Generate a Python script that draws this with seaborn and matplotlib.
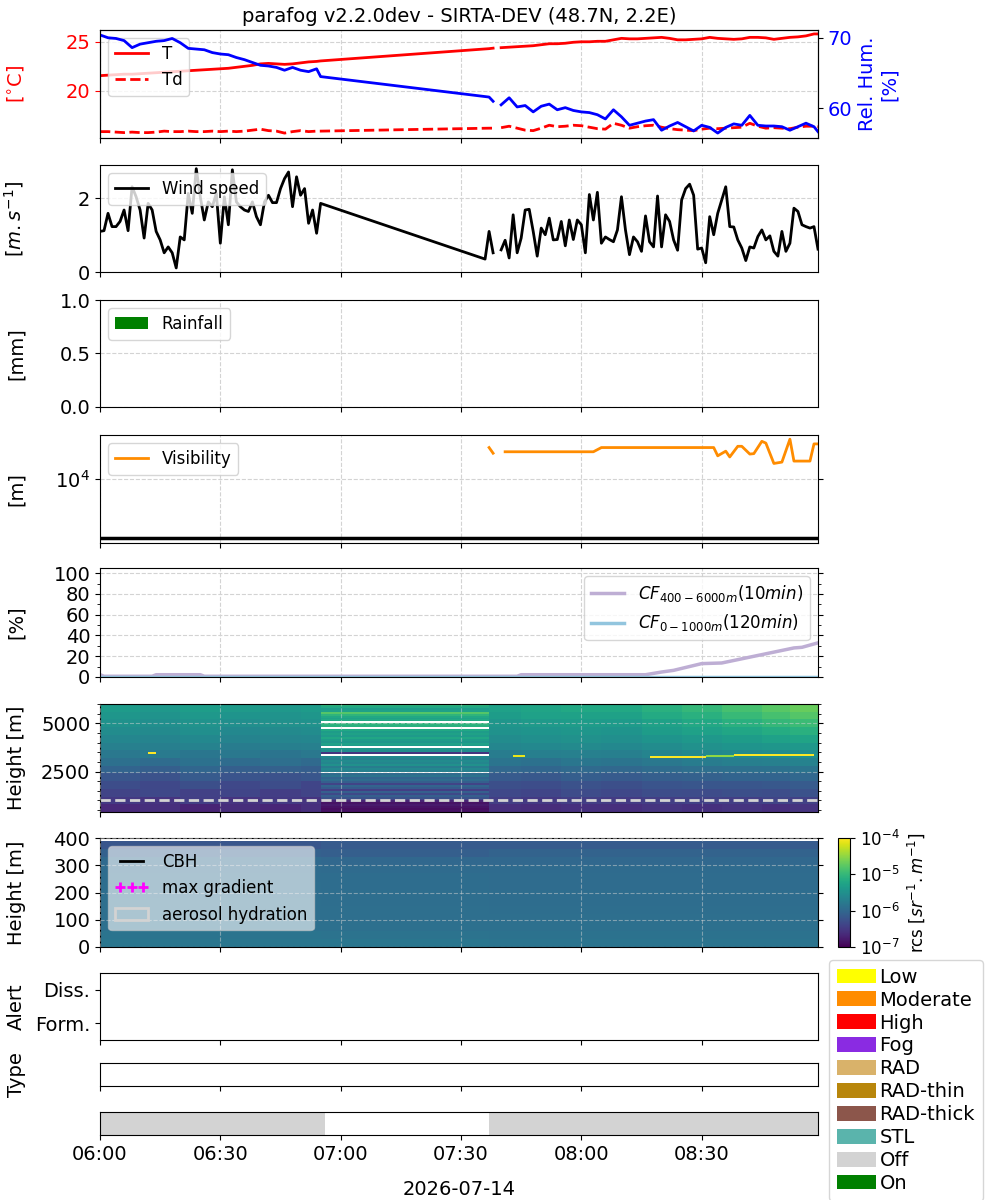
import numpy as np
import pandas as pd
import matplotlib
matplotlib.use("Agg")
import matplotlib.pyplot as plt
import matplotlib.dates as mdates
from matplotlib.colors import LogNorm
from matplotlib.lines import Line2D
from matplotlib.patches import Patch
from matplotlib.ticker import MultipleLocator, NullLocator, LogLocator
import seaborn as sns

plt.rcParams['font.family'] = ['DejaVu Sans']
plt.rcParams['font.size'] = 14
plt.rcParams['legend.fontsize'] = 12

# ---------------- data (minutes after 06:00, 2026-07-14) ----------------
day = pd.Timestamp('2026-07-14 06:00')

# thermodynamics, ~2 min resolution, NaN = gap in record
therm_min = list(range(0, 55, 2)) + [55, 97, 98, 99] + list(range(100, 179, 2)) + [179]
temp = [21.55, 21.6, 21.65, 21.7, 21.7, 21.75, 21.8, 21.85, 21.9, 21.95,
        22.0, 22.05, 22.1, 22.15, 22.2, 22.25, 22.3, 22.4, 22.5, 22.6,
        22.75, 22.8, 22.75, 22.7, 22.75, 22.85, 22.95, 23.0,
        23.05, 24.3, 24.35, np.nan,
        24.4, 24.45, 24.5, 24.55, 24.6, 24.7, 24.8, 24.8, 24.85, 24.95,
        25.0, 25.0, 25.05, 25.05, 25.2, 25.35, 25.3, 25.3, 25.35, 25.4,
        25.45, 25.35, 25.2, 25.2, 25.25, 25.3, 25.45, 25.35, 25.3, 25.25,
        25.3, 25.45, 25.45, 25.4, 25.25, 25.35, 25.45, 25.5, 25.6, 25.8,
        25.8]
dewp = [15.85, 15.85, 15.8, 15.75, 15.8, 15.75, 15.75, 15.8, 15.9, 15.85,
        15.85, 15.9, 15.85, 15.85, 15.9, 15.85, 15.9, 15.85, 15.9, 16.0,
        16.1, 15.95, 15.9, 15.7, 15.85, 15.95, 15.85, 15.9,
        15.9, 16.2, 16.2, np.nan,
        16.25, 16.4, 16.2, 16.0, 15.95, 16.2, 16.5, 16.35, 16.4, 16.5,
        16.45, 16.3, 16.15, 16.1, 16.7, 16.5, 16.2, 16.35, 16.45, 16.5,
        16.3, 16.15, 16.05, 16.0, 15.95, 16.1, 16.2, 16.15, 16.2, 16.25,
        16.3, 16.7, 16.4, 16.2, 16.25, 16.2, 16.15, 16.3, 16.4, 16.4,
        16.35]
relhum = [70.4, 70.0, 69.9, 69.6, 68.6, 69.1, 69.3, 69.5, 69.6, 69.9,
          69.3, 68.5, 68.4, 68.3, 67.9, 67.7, 67.6, 67.2, 66.9, 66.5,
          66.1, 66.0, 65.8, 65.4, 65.8, 65.4, 65.2, 65.6,
          64.5, 61.6, 61.0, np.nan,
          60.5, 61.5, 60.2, 60.4, 59.5, 60.3, 60.6, 59.8, 60.1, 59.7,
          59.5, 59.4, 59.1, 58.5, 59.8, 58.8, 57.6, 57.9, 58.2, 58.4,
          56.9, 57.5, 58.0, 57.4, 56.8, 57.6, 57.3, 56.5, 57.3, 57.8,
          57.6, 59.0, 57.6, 57.5, 57.5, 57.4, 56.9, 57.4, 57.9, 57.4,
          56.7]

# wind speed, 1 min resolution
wind_min = list(range(0, 56)) + [96, 97, 98, 99] + list(range(100, 180))
wind = [1.10, 1.12, 1.59, 1.23, 1.23, 1.37, 1.68, 1.12, 2.31, 2.04,
        1.68, 0.92, 1.86, 1.68, 1.10, 0.87, 0.52, 0.68, 0.52, 0.11,
        0.95, 0.87, 2.13, 1.59, 2.80, 2.04, 1.41, 1.90, 1.77, 2.13,
        0.78, 2.04, 1.28, 2.77, 1.90, 1.77, 1.68, 1.64, 1.90, 1.50,
        1.28, 1.90, 2.08, 1.88, 1.88, 2.26, 2.53, 2.71, 1.77, 2.58,
        2.08, 2.26, 1.32, 1.68, 1.05, 1.86,
        0.35, 1.10, 0.52, np.nan,
        0.60, 0.86, 0.38, 1.55, 0.52, 0.92, 1.68, 1.70, 1.10, 0.43,
        1.19, 1.01, 1.46, 0.87, 0.88, 1.37, 0.71, 1.41, 0.88, 1.41,
        1.28, 0.52, 2.10, 1.41, 2.16, 0.78, 0.95, 0.88, 0.82, 1.14,
        2.04, 1.14, 0.47, 0.95, 0.82, 0.56, 1.52, 0.82, 0.68, 2.06,
        0.68, 1.55, 1.37, 0.87, 0.59, 1.95, 2.26, 2.38, 2.08, 0.62,
        0.65, 0.25, 1.50, 1.01, 1.59, 1.95, 2.31, 1.23, 1.22, 0.87,
        0.65, 0.31, 0.68, 0.65, 0.96, 1.14, 0.87, 0.98, 0.56, 0.43,
        1.10, 0.56, 0.78, 1.73, 1.64, 1.28, 1.23, 1.19, 1.23, 0.62]

# rainfall (none recorded)
rain_min = [0, 179]
rain_mm = [0.0, 0.0]

# visibility [m]
vis_min = [97, 98, 99, 101, 123, 125, 153, 154, 156, 157, 159, 160, 162,
           163, 165, 166, 168, 170, 172, 173, 177, 178, 179]
vis = [21900, 19000, np.nan, 19700, 19700, 21900, 21900, 17800, 20000, 17300,
       22600, 22600, 18600, 18800, 25600, 24500, 14700, 15200, 27000, 15600,
       15600, 24000, 24000]
vis_ref = 2260

# cloud fraction [%]
cf_min = [0, 1, 13, 14, 25, 26, 104, 105, 136, 140, 143, 150, 155, 173, 175, 179]
cf_high = [2.2, 0.7, 0.7, 2.2, 2.2, 0.7, 0.7, 2.2, 2.2, 4.8, 6.4, 12.9, 13.5,
           28.0, 28.6, 32.9]
cf_low_min = [0, 179]
cf_low = [0.0, 0.0]

# backscatter, log10(rcs), upper range 400-6000 m in 400 m layers
hi_edges = [400, 800, 1200, 1600, 2000, 2400, 2800, 3200, 3600, 4000,
            4400, 4800, 5200, 5600, 6000]
seg1_edges = [0, 10, 20, 30, 40, 50, 55]
bs_seg1 = [
    [-6.65, -6.60, -6.70, -6.62, -6.68, -6.60],
    [-6.50, -6.55, -6.45, -6.55, -6.50, -6.55],
    [-6.40, -6.35, -6.42, -6.38, -6.45, -6.40],
    [-6.30, -6.35, -6.28, -6.35, -6.30, -6.38],
    [-6.20, -6.25, -6.15, -6.22, -6.25, -6.20],
    [-6.05, -6.10, -6.02, -6.10, -6.08, -6.12],
    [-5.90, -5.95, -5.88, -5.95, -5.92, -5.98],
    [-5.80, -5.78, -5.82, -5.80, -5.85, -5.80],
    [-5.70, -5.72, -5.68, -5.75, -5.72, -5.70],
    [-5.62, -5.65, -5.60, -5.66, -5.64, -5.62],
    [-5.55, -5.58, -5.52, -5.60, -5.58, -5.55],
    [-5.48, -5.52, -5.46, -5.52, -5.50, -5.48],
    [-5.42, -5.46, -5.40, -5.45, -5.46, -5.42],
    [-5.36, -5.40, -5.34, -5.38, -5.40, -5.36],
]
seg2_edges = [97, 105, 115, 125, 135, 145, 155, 165, 172, 179]
bs_seg2 = [
    [-6.60, -6.62, -6.58, -6.60, -6.55, -6.58, -6.55, -6.60, -6.55],
    [-6.45, -6.50, -6.45, -6.48, -6.45, -6.42, -6.45, -6.40, -6.42],
    [-6.35, -6.38, -6.32, -6.35, -6.30, -6.32, -6.28, -6.30, -6.25],
    [-6.28, -6.30, -6.25, -6.28, -6.22, -6.20, -6.20, -6.18, -6.15],
    [-6.15, -6.18, -6.12, -6.15, -6.10, -6.08, -6.05, -6.05, -6.00],
    [-6.00, -6.02, -5.98, -6.00, -5.95, -5.92, -5.90, -5.88, -5.85],
    [-5.85, -5.88, -5.82, -5.85, -5.80, -5.75, -5.72, -5.70, -5.68],
    [-5.75, -5.72, -5.70, -5.72, -5.65, -5.60, -5.58, -5.55, -5.52],
    [-5.62, -5.60, -5.58, -5.60, -5.55, -5.50, -5.45, -5.42, -5.40],
    [-5.55, -5.52, -5.50, -5.52, -5.45, -5.40, -5.35, -5.30, -5.25],
    [-5.48, -5.45, -5.42, -5.45, -5.35, -5.30, -5.22, -5.15, -5.10],
    [-5.42, -5.38, -5.35, -5.36, -5.28, -5.20, -5.10, -5.00, -4.95],
    [-5.35, -5.30, -5.28, -5.28, -5.18, -5.10, -4.98, -4.88, -4.80],
    [-5.30, -5.25, -5.20, -5.20, -5.10, -5.00, -4.88, -4.78, -4.70],
]
# repeated profile while the ceilometer was off (100 m layers, 400-6000 m)
mid_edges = list(range(400, 6001, 100))
mid_span = [55, 97]
bs_mid = [-6.85, -6.9, -6.85, -6.8, -6.85, -6.7,
          -6.4, -6.25,
          -6.1, -6.34, -6.1, -6.46, -6.16, -6.04, -6.4, -6.1,
          -5.95, -6.04, -5.86, -5.95,
          np.nan,
          -5.7, -5.6, -5.75, -5.5, -5.62, -5.56, -5.7, -5.6,
          np.nan,
          -6.55,
          -5.55, -5.45,
          np.nan,
          -5.38, -5.3, -5.42, -5.35, -5.22, -5.38, -5.28, -5.35, -5.2,
          np.nan,
          -5.1, -5.05,
          np.nan,
          -5.2, -5.3, -5.2, -5.05,
          -4.8,
          -5.3, -5.35, -5.2,
          -5.05]
# thin cloud layers
cloud_start = [12, 103, 137, 151, 158]
cloud_end = [14, 106, 151, 158, 178]
cloud_base = [3390, 3230, 3210, 3240, 3280]
cloud_top = [3490, 3330, 3320, 3340, 3390]
cloud_val = [-4.0, -4.1, -4.0, -4.5, -4.0]
cbh_level = 1000

# backscatter, lowest 400 m
lo_edges = [0, 30, 60, 90, 120, 150, 180, 210, 240, 270, 300, 330, 360, 390]
lo_time_edges = [0, 55, 97, 179]
lo_seg1 = [-5.82, -5.85, -5.9, -5.92, -5.92, -5.92, -5.93, -5.93, -5.94, -5.95, -5.98, -6.08, -6.2]
lo_mid = [-5.82, -5.86, -5.9, -5.92, -5.92, -5.93, -5.93, -5.94, -5.94, -5.96, -6.0, -6.1, -6.15]
lo_seg2 = [-5.84, -5.87, -5.9, -5.92, -5.93, -5.94, -5.94, -5.95, -5.95, -5.96, -6.0, -6.06, -6.15]

# instrument status: periods "Off"
off_start = [0, 97]
off_end = [56, 179]

status_labels = ['Low', 'Moderate', 'High', 'Fog', 'RAD', 'RAD-thin', 'RAD-thick', 'STL', 'Off', 'On']
status_colors = ['yellow', 'darkorange', 'red', 'blueviolet', '#d9b26a', 'darkgoldenrod',
                 '#8c564b', '#5ab4ac', 'lightgray', 'green']


def tnum(minutes):
    return mdates.date2num(day + pd.to_timedelta(np.asarray(minutes, dtype=float), unit='min'))


def seg_frame(minutes, values):
    df = pd.DataFrame({'t': tnum(minutes), 'v': np.asarray(values, dtype=float)})
    df['seg'] = df['v'].isna().cumsum()
    return df.dropna()


def line(ax, minutes, values, **kw):
    sns.lineplot(data=seg_frame(minutes, values), x='t', y='v', units='seg',
                 estimator=None, sort=False, ax=ax, **kw)
    ax.set_xlabel('')
    ax.set_ylabel('')


# ---------------- figure ----------------
fig = plt.figure(figsize=(10, 12), dpi=100)
L, W = 0.100, 0.718


def add(top, bottom, **kw):
    return fig.add_axes([L, 1 - bottom / 1200, W, (bottom - top) / 1200], **kw)


ax_t = add(30, 138)
ax_w = add(165, 272, sharex=ax_t)
ax_r = add(300, 407, sharex=ax_t)
ax_v = add(435, 543, sharex=ax_t)
ax_c = add(568, 677, sharex=ax_t)
ax_h = add(704, 812, sharex=ax_t)
ax_l = add(838, 947, sharex=ax_t)
ax_a = add(973, 1040, sharex=ax_t)
ax_y = add(1063, 1086, sharex=ax_t)
ax_o = add(1112, 1135, sharex=ax_t)
cax = fig.add_axes([0.838, 1 - 947 / 1200, 0.012, 109 / 1200])

grid_kw = dict(color='lightgray', linestyle='--', linewidth=0.8)

# temperature / humidity
line(ax_t, therm_min, temp, color='red', lw=2)
line(ax_t, therm_min, dewp, color='red', lw=2, linestyle='--')
ax_t.set_ylim(15.2, 26.2)
ax_t.yaxis.set_major_locator(MultipleLocator(5))
ax_t.tick_params(axis='y', colors='red', labelcolor='red')
ax_t.set_ylabel(r'[$^{\circ}$C]', color='red')
ax_t.grid(True, **grid_kw)
ax_t.legend(handles=[Line2D([], [], color='red', lw=2, label='T'),
                     Line2D([], [], color='red', lw=2, ls='--', label='Td')],
            loc='upper left')
ax_t.set_title('parafog v2.2.0dev - SIRTA-DEV (48.7N, 2.2E)', fontsize=14)
ax_rh = ax_t.twinx()
line(ax_rh, therm_min, relhum, color='blue', lw=2)
ax_rh.set_ylim(55.8, 71.1)
ax_rh.yaxis.set_major_locator(MultipleLocator(10))
ax_rh.tick_params(axis='y', labelcolor='blue')
ax_rh.set_ylabel('Rel. Hum.\n[%]', color='blue')

# wind
line(ax_w, wind_min, wind, color='black', lw=2)
ax_w.set_ylim(0, 2.9)
ax_w.yaxis.set_major_locator(MultipleLocator(2))
ax_w.set_ylabel(r'[$m.s^{-1}$]')
ax_w.grid(True, **grid_kw)
ax_w.legend(handles=[Line2D([], [], color='black', lw=2, label='Wind speed')], loc='upper left')

# rain
ax_r.bar(tnum(rain_min), rain_mm, width=10 / 1440, color='green', label='Rainfall')
ax_r.set_ylim(0, 1)
ax_r.set_yticks([0.0, 0.5, 1.0])
ax_r.set_ylabel('[mm]')
ax_r.grid(True, **grid_kw)
ax_r.legend(loc='upper left')

# visibility
line(ax_v, vis_min, vis, color='darkorange', lw=2)
ax_v.axhline(vis_ref, color='black', lw=2.5)
ax_v.set_yscale('log')
ax_v.set_ylim(2000, 30000)
ax_v.yaxis.set_major_locator(LogLocator(base=10))
ax_v.yaxis.set_minor_locator(NullLocator())
ax_v.tick_params(axis='y', right=True)
ax_v.set_ylabel('[m]')
ax_v.grid(True, **grid_kw)
ax_v.legend(handles=[Line2D([], [], color='darkorange', lw=2, label='Visibility')], loc='upper left')

# cloud fraction
line(ax_c, cf_min, cf_high, color='#beaed4', lw=2.5)
line(ax_c, cf_low_min, cf_low, color='#92c5de', lw=2.5)
ax_c.set_ylim(0, 105)
ax_c.yaxis.set_major_locator(MultipleLocator(20))
ax_c.yaxis.set_minor_locator(MultipleLocator(10))
ax_c.tick_params(axis='y', which='both', right=True)
ax_c.set_ylabel('[%]')
ax_c.grid(True, **grid_kw)
ax_c.legend(handles=[Line2D([], [], color='#beaed4', lw=2.5, label=r'$CF_{400-6000m}(10min)$'),
                     Line2D([], [], color='#92c5de', lw=2.5, label=r'$CF_{0-1000m}(120min)$')],
            loc='upper right')

# backscatter, upper
norm = LogNorm(vmin=1e-7, vmax=1e-4)
ax_h.pcolormesh(tnum(seg1_edges), hi_edges, 10 ** np.array(bs_seg1), cmap='viridis', norm=norm)
ax_h.pcolormesh(tnum(mid_span), mid_edges, 10 ** np.array(bs_mid)[:, None], cmap='viridis', norm=norm)
ax_h.pcolormesh(tnum(seg2_edges), hi_edges, 10 ** np.array(bs_seg2), cmap='viridis', norm=norm)
for s, e, b, t, v in zip(cloud_start, cloud_end, cloud_base, cloud_top, cloud_val):
    ax_h.pcolormesh(tnum([s, e]), [b, t], [[10 ** v]], cmap='viridis', norm=norm)
ax_h.axhline(cbh_level, color='lightgray', ls='--', lw=2)
ax_h.set_ylim(400, 6000)
ax_h.set_yticks([2500, 5000])
ax_h.yaxis.set_minor_locator(MultipleLocator(500))
ax_h.tick_params(axis='y', which='both', right=True)
ax_h.set_ylabel('Height [m]')
ax_h.set_axisbelow(False)
ax_h.grid(True, color='lightgray', linestyle='--', linewidth=0.8, alpha=0.5)

# backscatter, lowest levels
lo_matrix = 10 ** np.column_stack([lo_seg1, lo_mid, lo_seg2])
mesh = ax_l.pcolormesh(tnum(lo_time_edges), lo_edges, lo_matrix, cmap='viridis', norm=norm)
ax_l.set_ylim(0, 400)
ax_l.yaxis.set_major_locator(MultipleLocator(100))
ax_l.tick_params(axis='y', right=True)
ax_l.set_ylabel('Height [m]')
ax_l.set_axisbelow(False)
ax_l.grid(True, color='lightgray', linestyle='--', linewidth=0.8, alpha=0.5)
ax_l.legend(handles=[Line2D([], [], color='black', lw=2, label='CBH'),
                     Line2D([], [], color='magenta', marker='+', ls='none', ms=7, mew=2,
                            label='max gradient'),
                     Patch(facecolor='none', edgecolor='lightgray', lw=2, label='aerosol hydration')],
            loc='upper left', numpoints=3, framealpha=0.6)
cb = fig.colorbar(mesh, cax=cax)
cb.set_ticks([1e-7, 1e-6, 1e-5, 1e-4])
cb.ax.yaxis.set_minor_locator(NullLocator())
cb.ax.tick_params(labelsize=12)
cb.set_label(r'rcs [$sr^{-1}.m^{-1}$]', fontsize=12)

# alerts / type / status
ax_a.set_ylim(-0.5, 1.5)
ax_a.set_yticks([0, 1])
ax_a.set_yticklabels(['Form.', 'Diss.'])
ax_a.set_ylabel('Alert')
ax_y.set_ylim(0, 1)
ax_y.set_yticks([])
ax_y.set_ylabel('Type')
ax_o.broken_barh([(tnum([s])[0], tnum([e])[0] - tnum([s])[0]) for s, e in zip(off_start, off_end)],
                 (0, 1), facecolors='lightgray')
ax_o.set_ylim(0, 1)
ax_o.set_yticks([])

# shared time axis
ax_t.set_xlim(tnum([0, 179]))
ax_o.xaxis.set_major_locator(mdates.MinuteLocator(byminute=[0, 30]))
ax_o.xaxis.set_major_formatter(mdates.DateFormatter('%H:%M'))
for ax in [ax_t, ax_w, ax_r, ax_v, ax_c, ax_h, ax_l, ax_a, ax_y]:
    ax.tick_params(axis='x', labelbottom=False)
ax_o.set_xlabel('2026-07-14', labelpad=12)

for ax in [ax_t, ax_w, ax_r, ax_v, ax_c, ax_h, ax_l, ax_a, ax_y]:
    ax.yaxis.set_label_coords(-0.103, 0.5)

fig.legend(handles=[Patch(facecolor=c, label=l) for l, c in zip(status_labels, status_colors)],
           loc='upper left', bbox_to_anchor=(0.829, 1 - 960 / 1200), borderaxespad=0,
           fontsize=14, labelspacing=0.2, handletextpad=0.2, borderpad=0.4, handleheight=0.8)

fig.savefig('out.png', dpi=100)
